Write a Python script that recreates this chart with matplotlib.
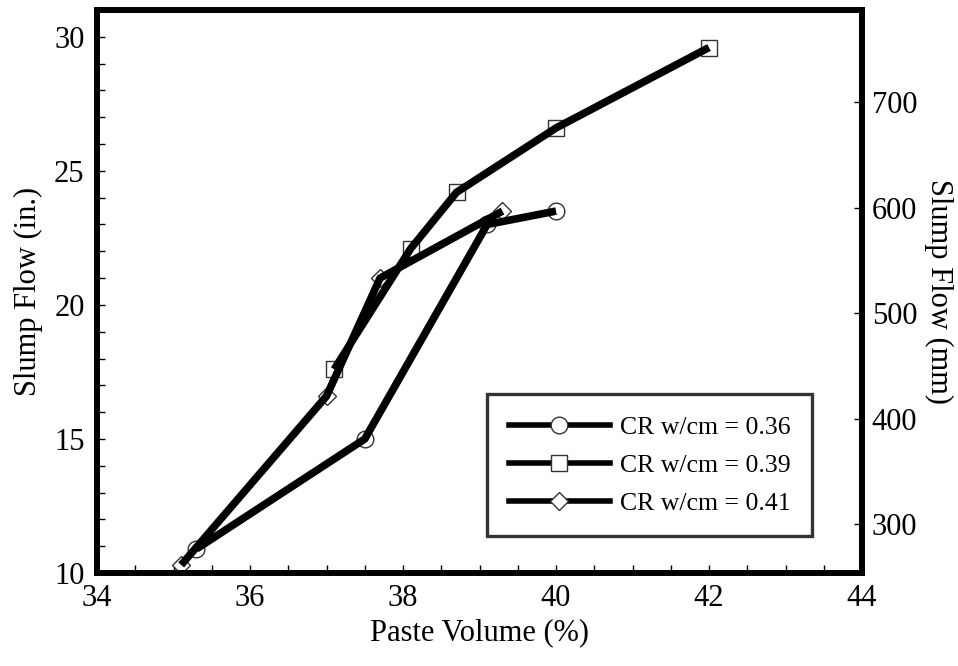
import numpy as np
import matplotlib.pyplot as plt
from matplotlib.ticker import MultipleLocator

plt.rcParams['font.family'] = ['Liberation Serif', 'DejaVu Serif']

# paste volume (%) and slump flow (in.)
pv_36 = [35.3, 37.5, 39.1, 40.0]
sf_36 = [10.9, 15.0, 23.0, 23.5]

pv_39 = [37.1, 38.1, 38.7, 40.0, 42.0]
sf_39 = [17.6, 22.1, 24.2, 26.6, 29.6]

pv_41 = [35.1, 37.0, 37.7, 39.3]
sf_41 = [10.3, 16.6, 21.0, 23.5]

labels = ['CR w/cm = 0.36', 'CR w/cm = 0.39', 'CR w/cm = 0.41']
markers = ['o', 's', 'D']
msizes = [12, 12, 9]

fig = plt.figure(figsize=(9.58, 6.66), dpi=100)
ax = fig.add_axes([0.1013, 0.1396, 0.7985, 0.8454])

handles = []
for x, y, m, ms, lab in zip([pv_36, pv_39, pv_41], [sf_36, sf_39, sf_41],
                            markers, msizes, labels):
    ax.plot(x, y, linestyle='none', marker=m, ms=ms, mfc='white',
            mec='#333333', mew=1.0, zorder=2)
    ax.plot(x, y, color='black', lw=5.5, solid_capstyle='butt', zorder=3)
    # legend proxy
    h, = ax.plot([], [], color='black', lw=4, marker=m, ms=ms,
                 mfc='white', mec='#333333', mew=1.0, label=lab)
    handles.append(h)

ax.set_xlim(34, 44)
ax.set_ylim(10, 31)
ax.xaxis.set_major_locator(MultipleLocator(2))
ax.xaxis.set_minor_locator(MultipleLocator(0.5))
ax.yaxis.set_major_locator(MultipleLocator(5))
ax.yaxis.set_minor_locator(MultipleLocator(1))
ax.tick_params(which='both', direction='in', length=6, width=1,
               labelsize=22, top=False, right=False)
ax.tick_params(axis='x', pad=8)
ax.tick_params(axis='y', pad=9)

ax.set_xlabel('Paste Volume (%)', fontsize=22, labelpad=4)
ax.set_ylabel('Slump Flow (in.)', fontsize=22, labelpad=8)

ax2 = ax.twinx()
ax2.set_ylim(10 * 25.4, 31 * 25.4)
ax2.yaxis.set_major_locator(MultipleLocator(100))
ax2.tick_params(direction='in', length=6, width=1, labelsize=22, pad=7)
ax2.set_ylabel('Slump Flow (mm)', fontsize=22, rotation=270, labelpad=26)

for a in (ax, ax2):
    for s in a.spines.values():
        s.set_linewidth(4.1)
        s.set_color('black')

leg = ax.legend(handles=handles, loc='lower right',
                bbox_to_anchor=(0.935, 0.065), fontsize=18.5,
                frameon=True, fancybox=False, edgecolor='black',
                handlelength=3.9, handletextpad=0.4, labelspacing=0.58,
                borderpad=0.85, borderaxespad=0)
leg.get_frame().set_linewidth(2.4)

fig.savefig('out.png', dpi=100)
